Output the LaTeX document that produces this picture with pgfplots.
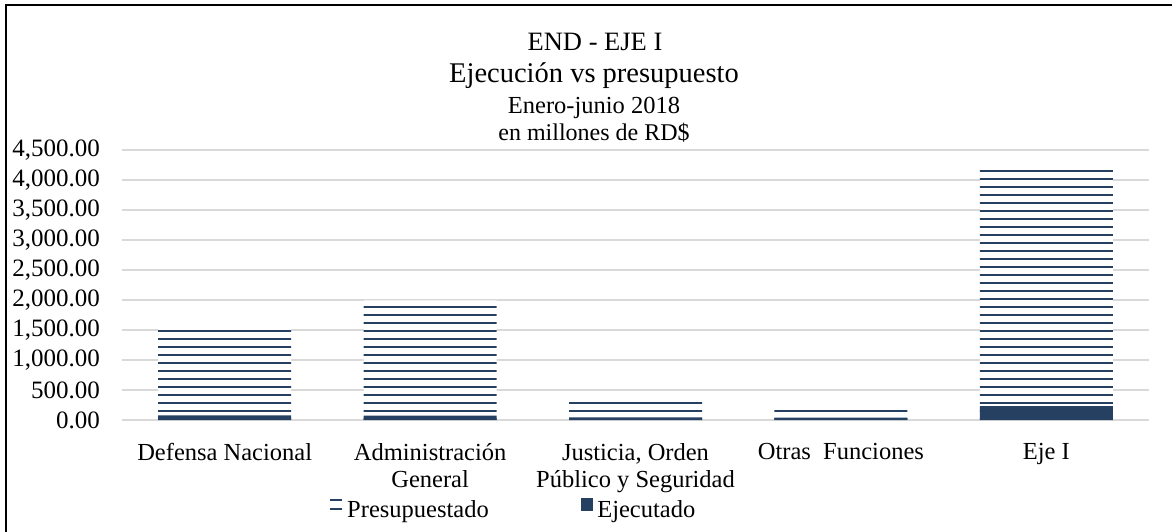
\documentclass[border=0pt]{standalone}
\usepackage{fontspec}
\setmainfont{Liberation Serif}
\usepackage{pgfplots}
\pgfplotsset{compat=1.18}
\usetikzlibrary{patterns.meta}
\definecolor{barblue}{RGB}{38,64,97}
\definecolor{gridgray}{RGB}{217,217,217}
\begin{document}
\begin{tikzpicture}[x=1pt,y=1pt]
\useasboundingbox (0,0) rectangle (1172,-531);
\draw[line width=2pt, black] (6,-540) -- (6,-4.5) -- (1180,-4.5);
\node[anchor=base, inner sep=0pt, font=\fontsize{26.5}{30}\selectfont] at (595,-50) {END - EJE I};
\node[anchor=base, inner sep=0pt, font=\fontsize{28.5}{32}\selectfont] at (594,-82) {Ejecución vs presupuesto};
\node[anchor=base, inner sep=0pt, font=\fontsize{24.5}{28}\selectfont] at (594,-113) {Enero-junio 2018};
\node[anchor=base, inner sep=0pt, font=\fontsize{24}{28}\selectfont] at (594,-140) {en millones de RD\$};
\begin{axis}[
  at={(122pt,-420pt)}, anchor=south west,
  width=1027pt, height=270pt, scale only axis,
  xmin=-0.5, xmax=4.5, ymin=0, ymax=4500,
  axis line style={draw=none},
  major tick length=0pt,
  ymajorgrids, grid style={gridgray, line width=1.6pt},
  ytick={0,500,...,4500},
  yticklabel={\pgfmathprintnumber[fixed,fixed zerofill,precision=2,1000 sep={,},assume math mode=true]{\tick}},
  yticklabel style={anchor=east, inner sep=0pt, xshift=-22pt, font=\fontsize{25}{28}\selectfont},
  xtick={0,1,2,3,4},
  xticklabels={Defensa Nacional, {Administración\\General}, {Justicia, Orden\\Público y Seguridad}, {Otras\ \ Funciones}, Eje I},
  xticklabel style={align=center, anchor=north, inner sep=0pt, yshift=-23pt, font=\fontsize{24.5}{27}\selectfont},
  ybar, bar width=133pt,
  legend columns=2,
  legend style={draw=none, fill=none, inner sep=0pt, at={(0.2015,-0.289)}, anchor=north west,
    font=\fontsize{24.5}{27}\selectfont,
    nodes={inner sep=0pt},
    /tikz/every odd column/.append style={column sep=4pt},
    /tikz/every even column/.append style={column sep=92pt}},
]
\addplot[bar shift=0pt, draw=none, fill=white,
  postaction={pattern={Lines[angle=0,distance=8pt,line width=2pt]}, pattern color=barblue},
  legend image code/.code={\draw[barblue, line width=1.6pt] (0pt,10pt) -- (12.5pt,10pt);
     \draw[barblue, line width=1.6pt] (0pt,1pt) -- (12.5pt,1pt);}]
  coordinates {(0,1580) (1,1995) (2,370) (3,240) (4,4240)};
\addlegendentry{Presupuestado}
\addplot[bar shift=0pt, draw=none, fill=barblue,
  legend image code/.code={\fill[barblue] (0pt,-1pt) rectangle (12.5pt,11.5pt);}]
  coordinates {(0,78) (1,72) (2,45) (3,38) (4,233)};
\addlegendentry{Ejecutado}
\end{axis}
\end{tikzpicture}
\end{document}
